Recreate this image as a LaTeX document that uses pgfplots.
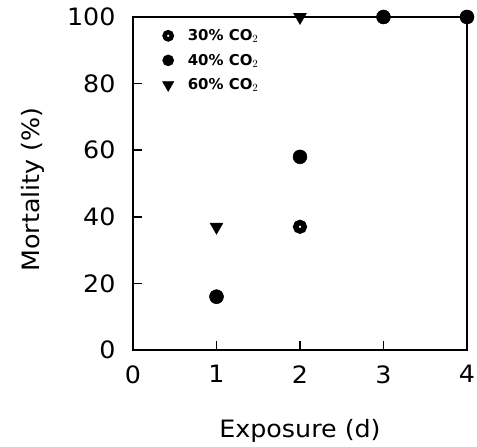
\documentclass[border=0pt]{standalone}
\usepackage{pgfplots}
\pgfplotsset{compat=1.18}
\usepackage{fontspec}
\setmainfont{DejaVu Sans}
\newfontfamily\plotfont{DejaVu Sans}[FakeStretch=1.06]
\newcommand\legfont{\fontsize{15}{17}\selectfont\bfseries}
\begin{document}
\begin{tikzpicture}
\begin{axis}[
  name=ax,
  scale only axis,
  width=334bp, height=333bp,
  xmin=0, xmax=4, ymin=0, ymax=100,
  xtick={0,1,2,3,4}, ytick={0,20,40,60,80,100},
  tick align=inside,
  xtick pos=bottom, ytick pos=left,
  major tick length=9bp,
  tick style={line width=1.6pt, black},
  axis line style={line width=1.6pt},
  tick label style={font=\plotfont\fontsize{24}{28}\selectfont},
  label style={font=\plotfont\fontsize{24}{28}\selectfont},
  /pgf/number format/assume math mode=true,
  xlabel={Exposure (d)}, ylabel={Mortality (\%)},
  xlabel style={at={(axis description cs:0.5,-0.2635)}, anchor=base},
  ylabel style={at={(axis description cs:-0.281,0.482)}, anchor=base},
  xticklabel style={yshift=-12bp},
  yticklabel style={xshift=-14bp},
  clip=false,
  legend style={at={(axis description cs:0.079,0.975)}, anchor=north west, draw=none, fill=none,
    row sep=8bp, column sep=10bp,
    nodes={inner xsep=4bp, font=\legfont}},
  legend cell align=left,
]
\addplot[only marks, mark=o, mark size=4.25bp, mark options={line width=5.5bp, black}, forget plot]
  coordinates {(1,16) (2,37) (3,100) (4,100)};
\addplot[only marks, mark=*, mark size=7bp, black, forget plot]
  coordinates {(1,16) (2,58) (3,100) (4,100)};
\addplot[only marks, mark=triangle*, mark size=7.5bp, black, mark options={rotate=180}, forget plot]
  coordinates {(1,37) (2,100)};
\addlegendimage{only marks, mark=o, mark size=3.6bp, mark options={line width=4.4bp, black}}
\addlegendentry{\legfont 30\% CO$_2$}
\addlegendimage{only marks, mark=*, mark size=5.6bp, black}
\addlegendentry{\legfont 40\% CO$_2$}
\addlegendimage{only marks, mark=triangle*, mark size=6.5bp, black, mark options={rotate=180}}
\addlegendentry{\legfont 60\% CO$_2$}
\end{axis}
\pgfresetboundingbox
\path ([xshift=-133bp,yshift=-97bp]ax.south west) rectangle ([xshift=10bp,yshift=17bp]ax.north east);
\end{tikzpicture}
\end{document}
